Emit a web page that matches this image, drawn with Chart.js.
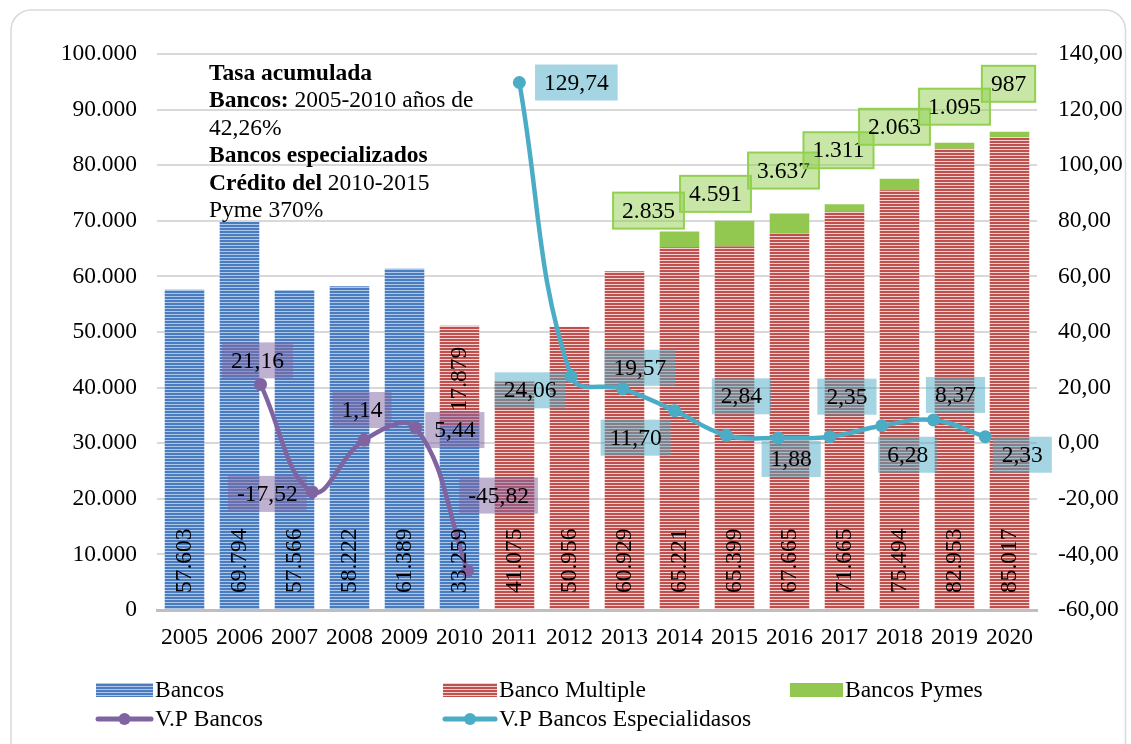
<!DOCTYPE html>
<html>
<head>
<meta charset="utf-8">
<script src="https://cdn.jsdelivr.net/npm/chart.js@4.4.1/dist/chart.umd.min.js"></script>
<style>
html, body { margin: 0; padding: 0; background: #fff; }
#wrap { position: relative; width: 1131px; height: 744px; }
</style>
</head>
<body>
<div id="wrap"><canvas id="chart__bancos" width="1131" height="744"></canvas></div>
<script>
// DATA
const years = ['2005', '2006', '2007', '2008', '2009', '2010', '2011', '2012', '2013', '2014', '2015', '2016', '2017', '2018', '2019', '2020'];
const bancos = [57603, 69794, 57566, 58222, 61389, 33259, null, null, null, null, null, null, null, null, null, null];
const bancoMultiple = [null, null, null, null, null, 17879, 41075, 50956, 60929, 65221, 65399, 67665, 71665, 75494, 82953, 85017];
const bancosPymes = [null, null, null, null, null, null, null, null, null, 2835, 4591, 3637, 1311, 2063, 1095, 987];
const vpBancos = [null, 21.16, -17.52, 1.14, 5.44, -45.82, null, null, null, null, null, null, null, null, null, null];
const vpEspecializados = [null, null, null, null, null, null, 129.74, 24.06, 19.57, 11.70, 2.84, 1.88, 2.35, 6.28, 8.37, 2.33];
const leftAxis = [0, 100000, 10000];   // min, max, step
const rightAxis = [-60, 140, 20];

// label shifts (px) for the boxed labels
const pymesShift = [null, null, null, null, null, null, null, null, null, [-31, -21], [-19, -27], [-6, -43], [-6, -54], [-5, -52], [0, -36], [-1, -48]];
const vpBancosShift = [null, [-3, -24], [-45, 2], [-2, -30], [39, 2], [31, -75], null, null, null, null, null, null, null, null, null, null];
const vpEspShift = [null, null, null, null, null, null, [57, 0], [-41, 14], [17, -21], [-39, 27], [15, -39], [13, 21], [17, -40], [26, 29], [22, -25], [37, 18]];

const FONT = '"Liberation Serif", "Times New Roman", serif';

// the lines sit on their own on-tick category axis, one slot wider each side
const lineSlots = [''].concat(years).concat(['']);
const pad = arr => [null].concat(arr).concat([null]);

function stripes(dark, light) {
    const c = document.createElement('canvas');
    c.width = 4; c.height = 3;
    const g = c.getContext('2d');
    g.fillStyle = light; g.fillRect(0, 0, 4, 3);
    g.fillStyle = dark; g.fillRect(0, 0, 4, 2);
    return g.createPattern(c, 'repeat');
}
const bluePattern = stripes('#4a7dc0', '#aec7e8');
const redPattern = stripes('#c0504d', '#f2d2d1');
const GREEN = '#92c850';
const PURPLE = '#8064a2';
const TEAL = '#4bacc6';

const fmtMiles = v => String(v).replace(/\B(?=(\d{3})+(?!\d))/g, '.');
const fmtDec = v => v.toFixed(2).replace('.', ',');

function boxLabel(ctx, txt, cx, cy, fill, stroke) {
    ctx.font = '23.5px ' + FONT;
    const w = ctx.measureText(txt).width + 18, h = 36;
    ctx.fillStyle = fill;
    ctx.fillRect(cx - w / 2, cy - h / 2, w, h);
    if (stroke) {
        ctx.lineWidth = 2;
        ctx.strokeStyle = stroke;
        ctx.strokeRect(cx - w / 2, cy - h / 2, w, h);
    }
    ctx.fillStyle = '#000';
    ctx.textAlign = 'center';
    ctx.textBaseline = 'middle';
    ctx.fillText(txt, cx, cy + 1);
}

const labelsPlugin = {
    id: 'labels',
    afterDatasetsDraw(chart) {
        const ctx = chart.ctx;
        const all = chart.data.datasets;
        all.forEach((ds, di) => {
            const meta = chart.getDatasetMeta(di);
            meta.data.forEach((el, i) => {
                const v = ds.data[i];
                if (v === null || v === undefined) return;
                ctx.save();
                if (ds.labelMode === 'inside') {
                    ctx.font = '23.5px ' + FONT;
                    ctx.fillStyle = '#000';
                    ctx.textBaseline = 'middle';
                    // segment sitting on the axis gets its label at the base
                    const onBase = all.slice(0, di).every(d => d.type !== 'bar' || d.data[i] == null);
                    const p = el.getProps(['x', 'y', 'base'], true);
                    ctx.translate(p.x, onBase ? p.base - 16 : p.y + 21);
                    ctx.rotate(-Math.PI / 2);
                    ctx.textAlign = onBase ? 'left' : 'right';
                    ctx.fillText(fmtMiles(v), 0, 0);
                } else if (ds.labelMode === 'box') {
                    const s = ds.labelShift[i];
                    const txt = ds.type === 'line' ? fmtDec(v) : fmtMiles(v);
                    boxLabel(ctx, txt, el.x + s[0], el.y + s[1], ds.labelFill, ds.labelStroke);
                }
                ctx.restore();
            });
        });
    }
};

const framePlugin = {
    id: 'frame',
    beforeDraw(chart) {
        const ctx = chart.ctx;
        ctx.save();
        ctx.strokeStyle = '#d9d9d9';
        ctx.lineWidth = 1.5;
        ctx.beginPath();
        ctx.roundRect(11, 10, 1114.5, 760, 20);
        ctx.stroke();
        ctx.restore();
    },
    afterDraw(chart) {
        const ctx = chart.ctx;
        ctx.save();
        // note box
        const lines = [
            [['Tasa acumulada', true]],
            [['Bancos:', true], [' 2005-2010 años de', false]],
            [['42,26%', false]],
            [['Bancos especializados', true]],
            [['Crédito del', true], [' 2010-2015', false]],
            [['Pyme 370%', false]]
        ];
        ctx.fillStyle = '#000';
        ctx.textBaseline = 'alphabetic';
        ctx.textAlign = 'left';
        lines.forEach((parts, li) => {
            let x = 209;
            const y = 80 + li * 27.4;
            parts.forEach(([t, bold]) => {
                ctx.font = (bold ? 'bold ' : '') + '23.5px ' + FONT;
                ctx.fillText(t, x, y);
                x += ctx.measureText(t).width;
            });
        });

        // legend
        const ds = chart.data.datasets;
        const items = [
            [ds[0], 96, 57, 690],
            [ds[1], 443, 54, 690],
            [ds[2], 790, 53, 690],
            [ds[3], 96, 57, 719],
            [ds[4], 443, 54, 719]
        ];
        ctx.font = '23.5px ' + FONT;
        ctx.textBaseline = 'middle';
        items.forEach(([d, x, w, y]) => {
            if (d.type === 'line') {
                ctx.strokeStyle = d.borderColor;
                ctx.lineWidth = 5;
                ctx.lineCap = 'round';
                ctx.beginPath();
                ctx.moveTo(x + 2, y);
                ctx.lineTo(x + w - 2, y);
                ctx.stroke();
                ctx.fillStyle = d.borderColor;
                ctx.beginPath();
                ctx.arc(x + w / 2, y, 6, 0, Math.PI * 2);
                ctx.fill();
            } else {
                ctx.fillStyle = d.backgroundColor;
                ctx.fillRect(x, y - 7, w, 14);
            }
            ctx.fillStyle = '#000';
            ctx.fillText(d.label, x + w + 2, y + 1);
        });
        ctx.restore();
    }
};

const chart = document.getElementById('chart__bancos').getContext('2d');
const bancosChart = new Chart(chart, {
    data: {
        labels: years,
        datasets: [{
            type: 'bar',
            label: 'Bancos',
            data: bancos,
            backgroundColor: bluePattern,
            labelMode: 'inside',
            order: 2
        }, {
            type: 'bar',
            label: 'Banco Multiple',
            data: bancoMultiple,
            backgroundColor: redPattern,
            labelMode: 'inside',
            order: 2
        }, {
            type: 'bar',
            label: 'Bancos Pymes',
            data: bancosPymes,
            backgroundColor: GREEN,
            labelMode: 'box',
            labelShift: pymesShift,
            labelFill: 'rgba(146,208,80,0.5)',
            labelStroke: '#92d050',
            order: 2
        }, {
            type: 'line',
            label: 'V.P Bancos',
            data: pad(vpBancos),
            xAxisID: 'x2',
            yAxisID: 'y1',
            borderColor: PURPLE,
            backgroundColor: PURPLE,
            borderWidth: 4.5,
            pointRadius: 6.5,
            pointBackgroundColor: PURPLE,
            pointBorderWidth: 0,
            tension: 0.4,
            labelMode: 'box',
            labelShift: pad(vpBancosShift),
            labelFill: 'rgba(128,100,162,0.5)',
            order: 1
        }, {
            type: 'line',
            label: 'V.P Bancos Especialidasos',
            data: pad(vpEspecializados),
            xAxisID: 'x2',
            yAxisID: 'y1',
            borderColor: TEAL,
            backgroundColor: TEAL,
            borderWidth: 4.5,
            pointRadius: 6.5,
            pointBackgroundColor: TEAL,
            pointBorderWidth: 0,
            tension: 0.4,
            labelMode: 'box',
            labelShift: pad(vpEspShift),
            labelFill: 'rgba(75,172,198,0.5)',
            order: 0
        }]
    },
    options: {
        responsive: false,
        animation: false,
        datasets: {
            // grouped off: the hidden line axis would otherwise split each slot in two
            bar: { grouped: false, barPercentage: 1, categoryPercentage: 0.72 }
        },
        layout: { padding: { left: 20, right: 0, top: 54, bottom: 84 } },
        plugins: {
            legend: { display: false },
            tooltip: { enabled: false }
        },
        scales: {
            x: {
                stacked: true,
                offset: true,
                grid: { display: false, drawTicks: false },
                border: { display: true, color: '#bfbfbf', width: 3 },
                ticks: { color: '#000', padding: 14, maxRotation: 0, autoSkip: false, font: { family: FONT, size: 23.5 } },
                afterFit(s) { s.height = 50; }
            },
            x2: {
                type: 'category',
                labels: lineSlots,
                offset: false,
                display: false
            },
            y: {
                stacked: true,
                min: leftAxis[0],
                max: leftAxis[1],
                grid: { color: '#d9d9d9', lineWidth: 2, drawTicks: false },
                border: { display: false },
                ticks: { stepSize: leftAxis[2], color: '#000', padding: 20, font: { family: FONT, size: 23.5 }, callback: v => fmtMiles(v) },
                afterFit(s) { s.width = 137; }
            },
            y1: {
                position: 'right',
                min: rightAxis[0],
                max: rightAxis[1],
                grid: { display: false, drawTicks: false },
                border: { display: false },
                ticks: { stepSize: rightAxis[2], color: '#000', padding: 21, font: { family: FONT, size: 23.5 }, callback: v => fmtDec(v) },
                afterFit(s) { s.width = 94; }
            }
        }
    },
    plugins: [labelsPlugin, framePlugin]
});
</script>
</body>
</html>
